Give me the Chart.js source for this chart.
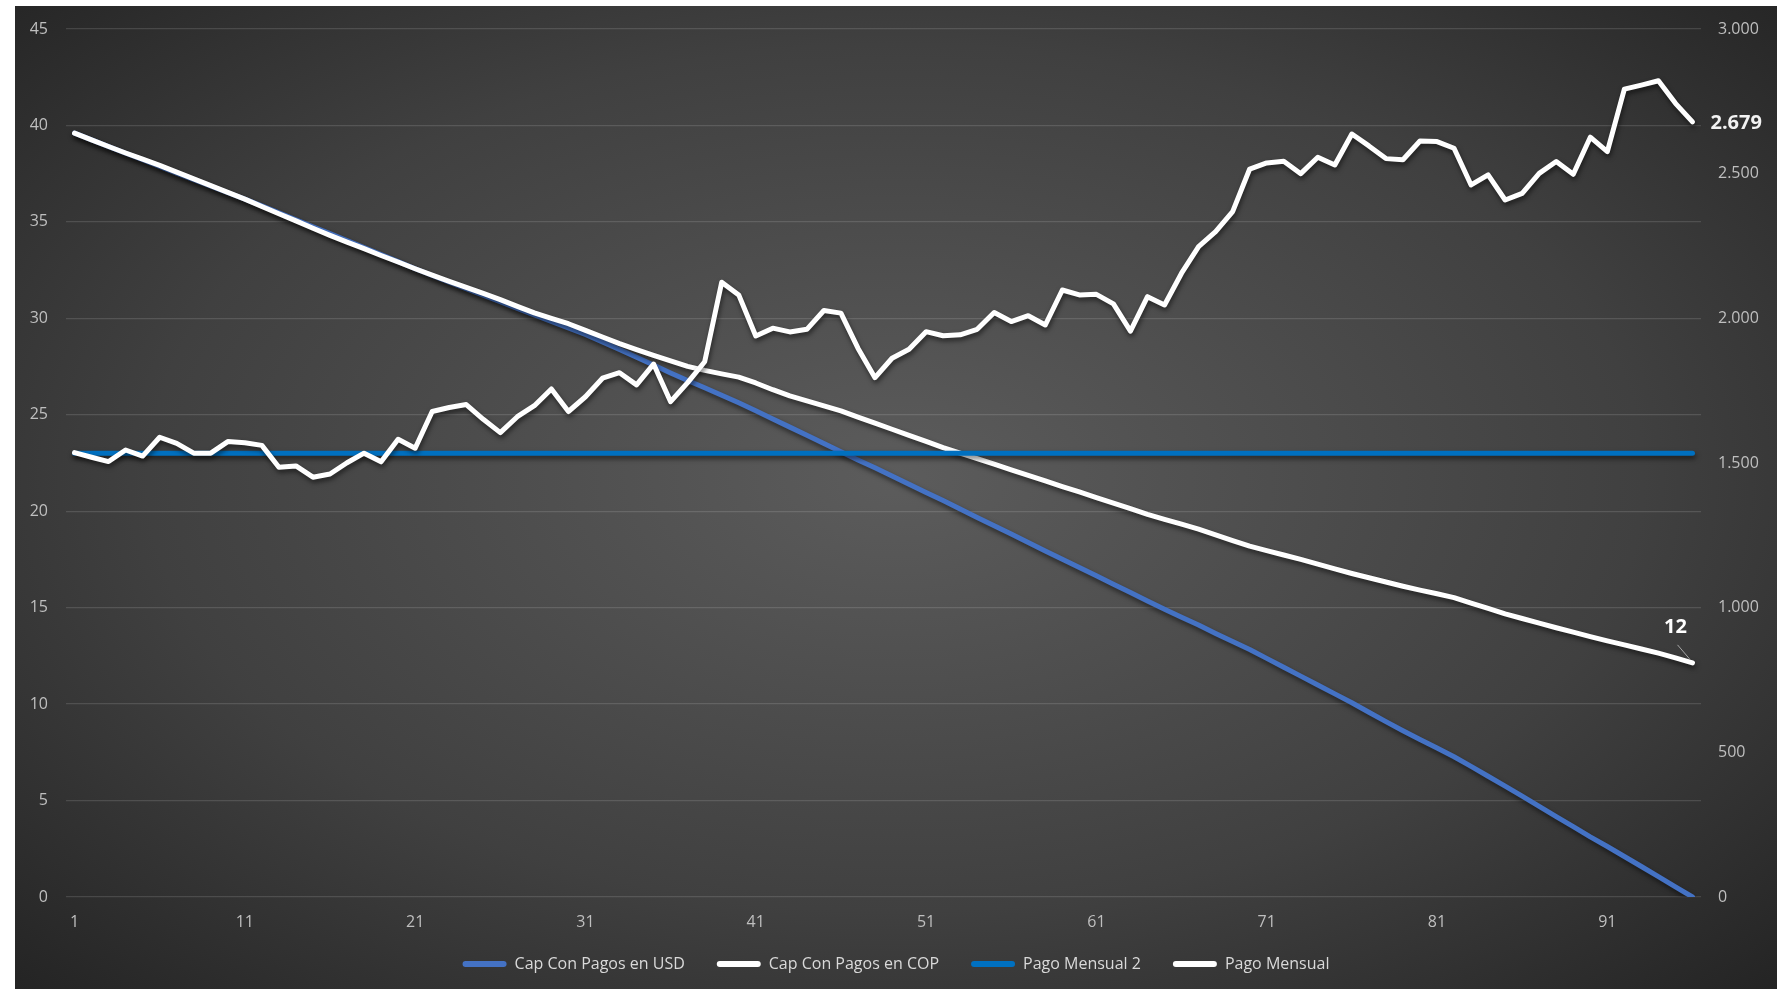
<!DOCTYPE html>
<html>
<head>
<meta charset="utf-8">
<script src="https://cdn.jsdelivr.net/npm/chart.js@4/dist/chart.umd.min.js"></script>
<style>
  html, body { margin: 0; padding: 0; background: #ffffff; }
  #wrap {
    position: absolute; left: 15px; top: 6px; width: 1762px; height: 983px;
    background: radial-gradient(ellipse farthest-corner at 50% 48%, #5c5c5c 0%, #404040 60%, #242424 100%);
  }
</style>
</head>
<body>
<div id="wrap"><canvas id="chart"></canvas></div>
<script>
// periods 1..96
const periods = Array.from({ length: 96 }, (_, i) => String(i + 1));

// Cap Con Pagos en USD (left axis)
const capUsd = [
  39.60, 39.25, 38.90, 38.56, 38.22, 37.88, 37.53, 37.19, 36.85, 36.51,
  36.18, 35.83, 35.47, 35.11, 34.75, 34.39, 34.03, 33.67, 33.31, 32.94,
  32.57, 32.22, 31.88, 31.54, 31.20, 30.86, 30.52, 30.18, 29.84, 29.50,
  29.17, 28.78, 28.38, 27.98, 27.58, 27.17, 26.78, 26.40, 26.01, 25.62,
  25.21, 24.78, 24.36, 23.94, 23.51, 23.08, 22.66, 22.25, 21.83, 21.40,
  20.97, 20.55, 20.12, 19.68, 19.25, 18.82, 18.38, 17.94, 17.51, 17.08,
  16.65, 16.22, 15.79, 15.35, 14.92, 14.50, 14.10, 13.66, 13.24, 12.83,
  12.37, 11.91, 11.45, 10.99, 10.53, 10.07, 9.58, 9.09, 8.62, 8.17,
  7.72, 7.27, 6.77, 6.26, 5.75, 5.23, 4.70, 4.17, 3.65, 3.12,
  2.62, 2.10, 1.58, 1.06, 0.53, 0.00
];

// Cap Con Pagos en COP (left axis)
const capCop = [
  39.60, 39.25, 38.91, 38.57, 38.25, 37.93, 37.58, 37.23, 36.88, 36.53,
  36.18, 35.80, 35.42, 35.05, 34.67, 34.30, 33.95, 33.61, 33.26, 32.92,
  32.57, 32.24, 31.92, 31.60, 31.29, 30.97, 30.62, 30.28, 30.00, 29.72,
  29.38, 29.03, 28.69, 28.38, 28.08, 27.80, 27.51, 27.30, 27.12, 26.95,
  26.65, 26.30, 25.98, 25.72, 25.46, 25.20, 24.88, 24.57, 24.25, 23.93,
  23.62, 23.30, 23.01, 22.73, 22.44, 22.15, 21.86, 21.57, 21.28, 21.00,
  20.71, 20.42, 20.13, 19.84, 19.58, 19.33, 19.07, 18.78, 18.48, 18.19,
  17.96, 17.73, 17.50, 17.26, 17.01, 16.77, 16.55, 16.33, 16.11, 15.91,
  15.72, 15.52, 15.24, 14.96, 14.68, 14.44, 14.20, 13.96, 13.73, 13.50,
  13.28, 13.07, 12.86, 12.64, 12.40, 12.14
];

// Pago Mensual 2 (left axis, flat)
const pagoMensual2 = Array(96).fill(23);

// Pago Mensual (right axis)
const pagoMensual = [
  1536, 1520, 1505, 1545, 1524, 1589, 1568, 1534, 1534, 1574,
  1570, 1561, 1485, 1490, 1451, 1462, 1501, 1534, 1504, 1582,
  1551, 1678, 1692, 1702, 1651, 1605, 1660, 1698, 1756, 1678,
  1729, 1793, 1812, 1770, 1842, 1712, 1778, 1850, 2125, 2081,
  1939, 1966, 1953, 1962, 2027, 2018, 1897, 1795, 1862, 1893,
  1954, 1940, 1943, 1962, 2020, 1989, 2009, 1977, 2098, 2081,
  2083, 2050, 1956, 2075, 2046, 2156, 2248, 2300, 2369, 2516,
  2537, 2543, 2500, 2557, 2530, 2637, 2596, 2552, 2548, 2613,
  2611, 2588, 2461, 2496, 2409, 2432, 2501, 2542, 2498, 2626,
  2576, 2792, 2806, 2821, 2743, 2679
];

const leftTicks = { min: 0, max: 45, step: 5 };
const rightTicks = { min: 0, max: 3000, step: 500 };

const fmt = (v) => String(v).replace(/\B(?=(\d{3})+(?!\d))/g, '.');

Chart.defaults.font.family = "'Open Sans', 'Liberation Sans', sans-serif";

// Excel-like soft shadow under each line
const lineShadow = {
  id: 'lineShadow',
  beforeDatasetDraw(chart) {
    const ctx = chart.ctx;
    ctx.save();
    ctx.shadowColor = 'rgba(0,0,0,0.55)';
    ctx.shadowBlur = 5;
    ctx.shadowOffsetX = 1;
    ctx.shadowOffsetY = 3;
  },
  afterDatasetDraw(chart) {
    chart.ctx.restore();
  }
};

// keep the legend band a fixed height
const legendHeight = {
  id: 'legendHeight',
  afterInit(chart) {
    const lg = chart.legend;
    if (!lg) return;
    const fit = lg.fit;
    lg.fit = function () { fit.call(this); this.height = 65; };
  }
};

// labels on the last point of COP and Pago Mensual
const endLabels = {
  id: 'endLabels',
  afterDatasetsDraw(chart) {
    const ctx = chart.ctx;
    const last = periods.length - 1;
    const cop = chart.getDatasetMeta(1).data[last];
    const pm = chart.getDatasetMeta(3).data[last];
    ctx.save();
    ctx.font = "bold 20px 'Open Sans', sans-serif";
    ctx.textBaseline = 'middle';

    // leader line + "12"
    ctx.strokeStyle = '#a6a6a6';
    ctx.lineWidth = 1;
    ctx.beginPath();
    ctx.moveTo(cop.x - 15, cop.y - 18);
    ctx.lineTo(cop.x - 3, cop.y - 4);
    ctx.stroke();
    ctx.fillStyle = '#ffffff';
    ctx.textAlign = 'center';
    ctx.fillText(String(Math.round(capCop[last])), cop.x - 17, cop.y - 36);

    ctx.fillStyle = '#f2f2f2';
    ctx.textAlign = 'left';
    ctx.fillText(fmt(pagoMensual[last]), pm.x + 18, pm.y + 1);
    ctx.restore();
  }
};

new Chart(document.getElementById('chart'), {
  type: 'line',
  data: {
    labels: periods,
    datasets: [
      { label: 'Cap Con Pagos en USD', data: capUsd, yAxisID: 'y', order: 4,
        borderColor: '#4472C4', backgroundColor: '#4472C4', borderWidth: 5 },
      { label: 'Cap Con Pagos en COP', data: capCop, yAxisID: 'y', order: 3,
        borderColor: '#ffffff', backgroundColor: '#ffffff', borderWidth: 5 },
      { label: 'Pago Mensual 2', data: pagoMensual2, yAxisID: 'y', order: 2,
        borderColor: '#0070C0', backgroundColor: '#0070C0', borderWidth: 5 },
      { label: 'Pago Mensual', data: pagoMensual, yAxisID: 'y1', order: 1,
        borderColor: '#ffffff', backgroundColor: '#ffffff', borderWidth: 5 }
    ]
  },
  options: {
    responsive: true,
    maintainAspectRatio: false,
    animation: false,
    elements: {
      point: { radius: 0, hoverRadius: 0 },
      line: { tension: 0, borderCapStyle: 'round', borderJoinStyle: 'round' }
    },
    layout: { padding: { top: 23, left: 0, right: 0, bottom: 0 } },
    scales: {
      x: {
        offset: true,
        grid: { display: false, drawTicks: false },
        border: { display: false },
        afterFit: (s) => {
          s.height = 27;
          s._computeLabelArea = () => undefined; // don't clip tick labels to the short axis box
        },
        ticks: {
          autoSkip: false, maxRotation: 0, padding: 16,
          color: '#bfbfbf', font: { size: 16 },
          callback: (v, i) => (i % 10 === 0 ? periods[i] : '')
        }
      },
      y: {
        position: 'left',
        min: leftTicks.min, max: leftTicks.max,
        afterFit: (s) => { s.width = 51; },
        grid: { color: 'rgba(255,255,255,0.13)', lineWidth: 1.3, drawTicks: true, tickLength: 18, tickColor: 'transparent' },
        border: { display: false },
        ticks: { stepSize: leftTicks.step, padding: 0, color: '#bfbfbf', font: { size: 16 } }
      },
      y1: {
        position: 'right',
        min: rightTicks.min, max: rightTicks.max,
        afterFit: (s) => { s.width = 76; },
        grid: { drawOnChartArea: false, drawTicks: true, tickLength: 17, tickColor: 'transparent' },
        border: { display: false },
        ticks: { stepSize: rightTicks.step, padding: 0, color: '#bfbfbf', font: { size: 16 },
          callback: (v) => fmt(v) }
      }
    },
    plugins: {
      tooltip: { enabled: false },
      legend: {
        position: 'bottom',
        labels: {
          color: '#d9d9d9',
          font: { size: 16 },
          boxWidth: 44,
          boxHeight: 6,
          padding: 32,
          sort: (a, b) => a.datasetIndex - b.datasetIndex,
          generateLabels: (chart) =>
            Chart.defaults.plugins.legend.labels.generateLabels(chart).map((l) => ({
              ...l, fillStyle: l.strokeStyle, lineWidth: 0, borderRadius: 3
            }))
        }
      }
    }
  },
  plugins: [lineShadow, legendHeight, endLabels]
});
</script>
</body>
</html>
